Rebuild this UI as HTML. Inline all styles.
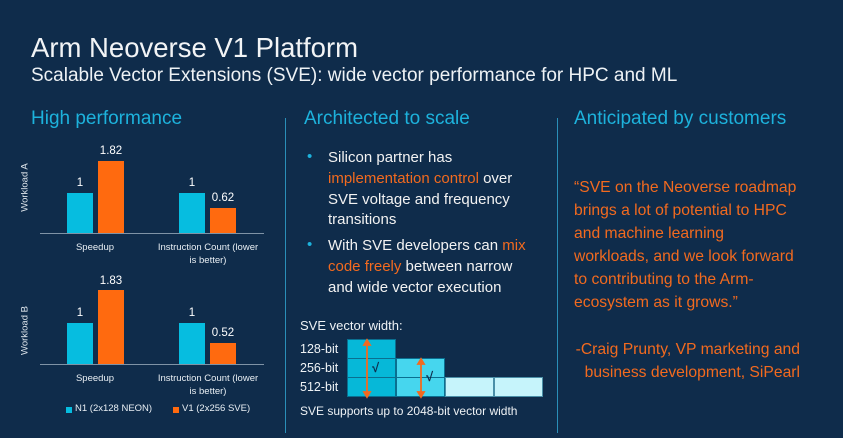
<!DOCTYPE html>
<html><head><meta charset="utf-8"><style>
*{margin:0;padding:0;box-sizing:border-box}
body{width:843px;height:438px;background:#0f2c4b;font-family:"Liberation Sans",sans-serif;position:relative;overflow:hidden;color:#fff}
.a{position:absolute;white-space:nowrap}
.h{color:#1db2dc;font-size:19px}
.o{color:#f26a1f}
.bar{position:absolute}
.c{background:#06bde0}
.r{background:#ff6a0f}
.s{font-size:9.5px;color:#e8eef3;text-align:center}
.v{font-size:11.5px;color:#fff;text-align:center;width:40px}
.mid{font-size:15px;line-height:20.8px;color:#f2f2f2}
.q{font-size:15.7px;line-height:23px;color:#f26a1f}
.rot{font-size:9.5px;color:#dfe6ec;transform:rotate(-90deg);transform-origin:center;width:70px;text-align:center}
</style></head><body>
<div class="a" style="left:31px;top:32px;font-size:27.5px;color:#f2f4f6">Arm Neoverse V1 Platform</div>
<div class="a" style="left:31px;top:65px;font-size:19px;color:#eef2f5">Scalable Vector Extensions (SVE): wide vector performance for HPC and ML</div>
<div class="a h" style="left:31px;top:108px">High performance</div>
<div class="a h" style="left:304px;top:108px">Architected to scale</div>
<div class="a h" style="left:574px;top:108px">Anticipated by customers</div>
<div class="a" style="left:285px;top:118px;width:1px;height:315px;background:#2a8fb8"></div>
<div class="a" style="left:557px;top:118px;width:1px;height:315px;background:#2a8fb8"></div>

<!-- Chart A -->
<div class="a rot" style="left:-10px;top:182px">Workload A</div>
<div class="a" style="left:40px;top:233px;width:224px;height:1px;background:#7f93a6"></div>
<div class="bar c" style="left:67px;top:193px;width:26px;height:40px"></div>
<div class="bar r" style="left:98px;top:161px;width:26px;height:72px"></div>
<div class="bar c" style="left:179px;top:193px;width:26px;height:40px"></div>
<div class="bar r" style="left:210px;top:208px;width:26px;height:25px"></div>
<div class="a v" style="left:60px;top:177px">1</div>
<div class="a v" style="left:91px;top:145px">1.82</div>
<div class="a v" style="left:172px;top:177px">1</div>
<div class="a v" style="left:203px;top:192px">0.62</div>
<div class="a s" style="left:65px;top:242px;width:60px">Speedup</div>
<div class="a s" style="left:148px;top:242px;width:120px;line-height:12.5px">Instruction Count (lower<br>is better)</div>

<!-- Chart B -->
<div class="a rot" style="left:-10px;top:325px">Workload B</div>
<div class="a" style="left:40px;top:364px;width:224px;height:1px;background:#7f93a6"></div>
<div class="bar c" style="left:67px;top:323px;width:26px;height:41px"></div>
<div class="bar r" style="left:98px;top:290px;width:26px;height:74px"></div>
<div class="bar c" style="left:179px;top:323px;width:26px;height:41px"></div>
<div class="bar r" style="left:210px;top:343px;width:26px;height:21px"></div>
<div class="a v" style="left:60px;top:307px">1</div>
<div class="a v" style="left:91px;top:275px">1.83</div>
<div class="a v" style="left:172px;top:307px">1</div>
<div class="a v" style="left:203px;top:327px">0.52</div>
<div class="a s" style="left:65px;top:373px;width:60px">Speedup</div>
<div class="a s" style="left:148px;top:373px;width:120px;line-height:12.5px">Instruction Count (lower<br>is better)</div>
<div class="a c" style="left:66px;top:407px;width:6px;height:6px"></div>
<div class="a s" style="left:75px;top:403px">N1 (2x128 NEON)</div>
<div class="a r" style="left:173px;top:407px;width:6px;height:6px"></div>
<div class="a s" style="left:182px;top:403px">V1 (2x256 SVE)</div>

<!-- middle -->
<div class="a" style="left:307px;top:148px;color:#1db2dc;font-size:15px">•</div>
<div class="a" style="left:307px;top:236px;color:#1db2dc;font-size:15px">•</div>
<div class="a mid" style="left:328px;top:148px">Silicon partner has<br><span class="o">implementation control</span> over<br>SVE voltage and frequency<br>transitions</div>
<div class="a mid" style="left:328px;top:236px">With SVE developers can <span class="o">mix</span><br><span class="o">code freely</span> between narrow<br>and wide vector execution</div>
<div class="a" style="left:300px;top:318px;font-size:13px;color:#eef2f5">SVE vector width:</div>
<div class="a" style="left:300px;top:340px;font-size:12.5px;color:#eef2f5;line-height:19px">128-bit<br>256-bit<br>512-bit</div>
<div class="a" style="left:347px;top:339px;width:49px;height:58px;background:#06b8d8;border:1px solid #0a6f90"></div>
<div class="a" style="left:347px;top:358px;width:49px;height:1px;background:#0a6f90"></div>
<div class="a" style="left:347px;top:377px;width:49px;height:1px;background:#0a6f90"></div>
<div class="a" style="left:396px;top:358px;width:49px;height:39px;background:#46d6ee;border:1px solid #0a6f90"></div>
<div class="a" style="left:396px;top:377px;width:49px;height:1px;background:#0a6f90"></div>
<div class="a" style="left:445px;top:377px;width:49px;height:20px;background:#c6f4fb;border:1px solid #4a8fa8"></div>
<div class="a" style="left:494px;top:377px;width:49px;height:20px;background:#c6f4fb;border:1px solid #4a8fa8"></div>
<svg class="a" style="left:0;top:0" width="843" height="438">
<g stroke="#f26a1f" stroke-width="1.8" fill="#f26a1f">
<line x1="367" y1="343" x2="367" y2="394"/>
<polygon points="364,345 370,345 367,340"/><polygon points="364,392 370,392 367,397"/>
<line x1="421" y1="362" x2="421" y2="394"/>
<polygon points="418,364 424,364 421,359"/><polygon points="418,392 424,392 421,397"/>
</g></svg>
<div class="a" style="left:372px;top:360px;font-size:13px;color:#0f2c4b;font-weight:bold">√</div>
<div class="a" style="left:426px;top:369px;font-size:13px;color:#0f2c4b;font-weight:bold">√</div>
<div class="a" style="left:300px;top:404px;font-size:12px;color:#eef2f5">SVE supports up to 2048-bit vector width</div>

<!-- right -->
<div class="a q" style="left:574px;top:176px">“SVE on the Neoverse roadmap<br>brings a lot of potential to HPC<br>and machine learning<br>workloads, and we look forward<br>to contributing to the Arm-<br>ecosystem as it grows.”</div>
<div class="a q" style="right:43px;top:338px;text-align:right">-Craig Prunty, VP marketing and<br>business development, SiPearl</div>
</body></html>
